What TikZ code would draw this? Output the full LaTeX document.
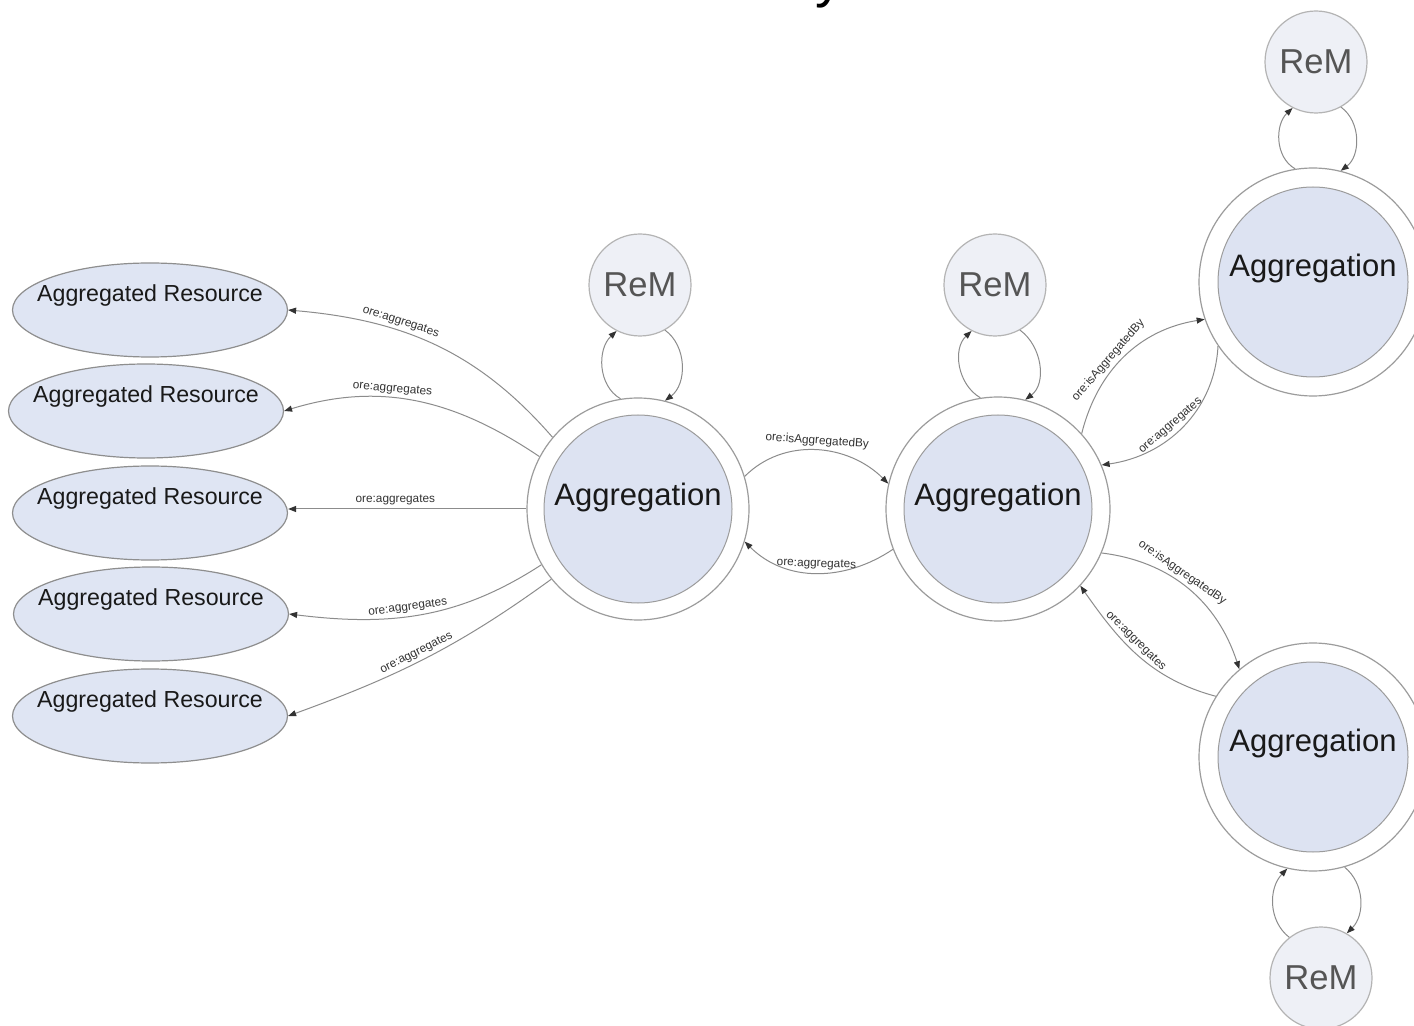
\documentclass[tikz,border=0pt]{standalone}
\usepackage{fontspec}
\setmainfont{Liberation Sans}
\usetikzlibrary{shapes.geometric,arrows.meta,calc}
\definecolor{ringline}{HTML}{9C9C9C}
\definecolor{aggfill}{HTML}{DDE3F2}
\definecolor{remfill}{HTML}{EEF0F6}
\definecolor{remline}{HTML}{B4B4B4}
\definecolor{remtext}{HTML}{555555}
\definecolor{resfill}{HTML}{DFE5F3}
\definecolor{resline}{HTML}{8E8E8E}
\definecolor{linegray}{HTML}{8C8C8C}
\definecolor{tipgray}{HTML}{333333}
\definecolor{labgray}{HTML}{333333}
\begin{document}
\begin{tikzpicture}[x=0.5pt,y=-0.5pt,
  outerc/.style={circle,draw=ringline,fill=white,line width=0.6pt,inner sep=0pt},
  innerc/.style={circle,draw=ringline,fill=aggfill,line width=0.5pt,inner sep=0pt,minimum size=94pt},
  aggtxt/.style={font=\fontsize{15.5}{18}\selectfont,text=black!90,inner sep=0pt},
  remc/.style={circle,draw=remline,fill=remfill,line width=0.6pt,inner sep=0pt,minimum size=51pt,
    font=\fontsize{17.3}{20}\selectfont,text=remtext},
  resc/.style={ellipse,draw=resline,fill=resfill,line width=0.6pt,inner sep=0pt,
    minimum width=137.5pt,minimum height=47pt},
  restxt/.style={font=\fontsize{11.6}{14}\selectfont,text=black!90,inner sep=0pt},
  conn/.style={draw=linegray,line width=0.5pt,-{Triangle[length=4pt,width=3pt,color=tipgray]}},
  lab/.style={font=\fontsize{5.9}{7}\selectfont,text=labgray,sloped,above,inner sep=1.6pt}
]
\useasboundingbox (0,0) rectangle (1414,1026);
\fill[white] (0,0) rectangle (1414,1026);

% cut-off title fragment
\node[anchor=base west,inner sep=0pt,font=\fontsize{28}{30}\selectfont] (title) at (815,-3) {y};

% aggregation nodes
\node[outerc,minimum size=111pt] (agg1) at (638,509) {};
\node[innerc] (agg1i) at (agg1) {};
\node[aggtxt] (agg1t) at ($(agg1)+(0,-12)$) {Aggregation};

\node[outerc,minimum size=112pt] (agg2) at (998,509) {};
\node[innerc] (agg2i) at (agg2) {};
\node[aggtxt] (agg2t) at ($(agg2)+(0,-12)$) {Aggregation};

\node[outerc,minimum size=114pt] (agg3) at (1313,282) {};
\node[innerc,minimum size=95pt] (agg3i) at (agg3) {};
\node[aggtxt] (agg3t) at ($(agg3)+(0,-14)$) {Aggregation};

\node[outerc,minimum size=114pt] (agg4) at (1313,757) {};
\node[innerc,minimum size=95pt] (agg4i) at (agg4) {};
\node[aggtxt] (agg4t) at ($(agg4)+(0,-14)$) {Aggregation};

% ReM nodes
\node[remc] (rem1) at (640,285) {ReM};
\node[remc] (rem2) at (995,285) {ReM};
\node[remc] (rem3) at (1316,62) {ReM};
\node[remc] (rem4) at (1321,978) {ReM};

% aggregated resources
\node[resc] (r1) at (150,310) {};
\node[restxt] (r1t) at ($(r1)+(0,-14)$) {Aggregated Resource};
\node[resc] (r2) at (146,411) {};
\node[restxt] (r2t) at ($(r2)+(0,-14)$) {Aggregated Resource};
\node[resc] (r3) at (150,513) {};
\node[restxt] (r3t) at ($(r3)+(0,-14)$) {Aggregated Resource};
\node[resc] (r4) at (151,614) {};
\node[restxt] (r4t) at ($(r4)+(0,-14)$) {Aggregated Resource};
\node[resc] (r5) at (150,716) {};
\node[restxt] (r5t) at ($(r5)+(0,-14)$) {Aggregated Resource};

% aggregation -> resources
\draw[conn] (agg1.140) to[out=131,in=-5] node[lab,pos=0.64]{ore:aggregates} (r1.east);
\draw[conn] (agg1.152) to[out=146,in=17] node[lab,pos=0.6]{ore:aggregates} (r2.east);
\draw[conn] (agg1.west) -- node[lab,pos=0.55]{ore:aggregates} (agg1.west -| r3.east);
\draw[conn] (agg1.210) to[out=213,in=-7] node[lab,pos=0.55]{ore:aggregates} (r4.east);
\draw[conn] (agg1.219) to[out=216,in=20] node[lab,pos=0.52]{ore:aggregates} (r5.east);

% agg1 <-> agg2
\draw[conn] (agg1.17) to[out=45,in=135] node[lab,pos=0.5]{ore:isAggregatedBy} (agg2.167);
\draw[conn] (agg2.201) to[out=214,in=-45] node[lab,pos=0.5]{ore:aggregates} (agg1.-17);

% agg2 <-> agg3
\draw[conn] (agg2.42) to[out=76,in=189] node[lab,pos=0.42]{ore:isAggregatedBy} (agg3.199);
\draw[conn] (agg3.214) to[out=267,in=8] node[lab,pos=0.55]{ore:aggregates} (agg2.23);

% agg2 <-> agg4
\draw[conn] (agg2.-23) to[out=-7,in=108] node[lab,pos=0.42]{ore:isAggregatedBy} (agg4.130);
\draw[conn] (agg4.148) to[out=165,in=305] node[lab,pos=0.57]{ore:aggregates} (agg2.-43);

% ReM loops
\draw[conn] (agg1.99) to[out=150,in=223] (rem1.243);
\draw[conn] (rem1.299) to[out=-36,in=37] (agg1.76);
\draw[conn] (agg2.99) to[out=150,in=223] (rem2.243);
\draw[conn] (rem2.299) to[out=-36,in=37] (agg2.76);
\draw[conn] (agg3.99) to[out=150,in=223] (rem3.243);
\draw[conn] (rem3.299) to[out=-36,in=37] (agg3.76);
\draw[conn] (rem4.128) to[out=142,in=226] (agg4.257);
\draw[conn] (agg4.286) to[out=-39,in=45] (rem4.60);
\end{tikzpicture}
\end{document}
